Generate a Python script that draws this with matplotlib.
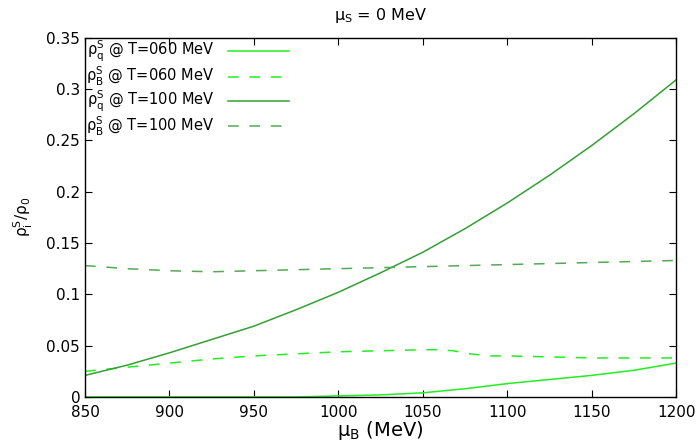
import numpy as np
import matplotlib; matplotlib.use('Agg')
import matplotlib.pyplot as plt

# mu_B [MeV] grid for the smooth curves
MU_B = [850, 875, 900, 925, 950, 975, 1000, 1025, 1050, 1075, 1100, 1125, 1150, 1175, 1200]
# finer grid for the T=60 MeV rho_B curve (shoulder near 1070 MeV)
MU_B_B60 = [850, 875, 900, 925, 950, 975, 1000, 1025, 1050, 1060, 1068, 1078, 1090, 1100, 1125, 1150, 1175, 1200]

# T = 60 MeV
RHO_Q_T60 = [0.0, 0.0, 0.0, 0.0, 0.0, 0.0, 0.001, 0.002, 0.004, 0.008, 0.013, 0.017, 0.021, 0.026, 0.033]
RHO_B_T60 = [0.025, 0.029, 0.033, 0.037, 0.040, 0.042, 0.044, 0.045, 0.046, 0.046, 0.045, 0.042, 0.040, 0.040, 0.039, 0.038, 0.038, 0.038]
# T = 100 MeV
RHO_Q_T100 = [0.021, 0.031, 0.043, 0.056, 0.069, 0.085, 0.102, 0.121, 0.141, 0.164, 0.189, 0.216, 0.245, 0.276, 0.309]
RHO_B_T100 = [0.128, 0.125, 0.123, 0.122, 0.123, 0.124, 0.125, 0.126, 0.127, 0.128, 0.129, 0.130, 0.131, 0.132, 0.133]

C60 = '#22ee22'
C100 = '#33a033'

plt.rcParams['font.family'] = 'DejaVu Sans'
plt.rcParams['mathtext.default'] = 'regular'
fig = plt.figure(figsize=(6.97, 4.45), dpi=100)
ax = fig.add_axes([0.122, 0.108, 0.848, 0.807])

ax.plot(MU_B, RHO_Q_T60, '-', color=C60, lw=1.1, label=r'$\rho^S_q$ @ T=060 MeV')
ax.plot(MU_B_B60, RHO_B_T60, '--', color=C60, lw=1.1, dashes=(7, 7), label=r'$\rho^S_B$ @ T=060 MeV')
ax.plot(MU_B, RHO_Q_T100, '-', color=C100, lw=1.1, label=r'$\rho^S_q$ @ T=100 MeV')
ax.plot(MU_B, RHO_B_T100, '--', color='#55a855', lw=1.1, dashes=(7, 7), label=r'$\rho^S_B$ @ T=100 MeV')

ax.set_xlim(850, 1200)
ax.set_ylim(0, 0.35)
ax.set_xticks(np.arange(850, 1201, 50))
ax.set_yticks(np.arange(0, 0.351, 0.05))
ax.set_yticklabels(['0', '0.05', '0.1', '0.15', '0.2', '0.25', '0.3', '0.35'])
ax.tick_params(direction='in', top=True, right=True, labelsize=11, length=5)
ax.tick_params(axis='x', pad=6)
for s in ax.spines.values():
    s.set_linewidth(1.0)

ax.set_xlabel(r'$\mu_B$ (MeV)', fontsize=14, labelpad=-1)
ax.set_ylabel(r'$\rho^S_i/\rho_0$', fontsize=11, labelpad=8)
ax.set_title(r'$\mu_S$ = 0 MeV', fontsize=11.5, pad=13)

ax.legend(loc='upper left', frameon=False, markerfirst=False, fontsize=10.5,
          handlelength=4.2, labelspacing=0.05, borderaxespad=0.0, borderpad=0.1,
          handletextpad=0.9)

fig.savefig('out.png', dpi=100)
